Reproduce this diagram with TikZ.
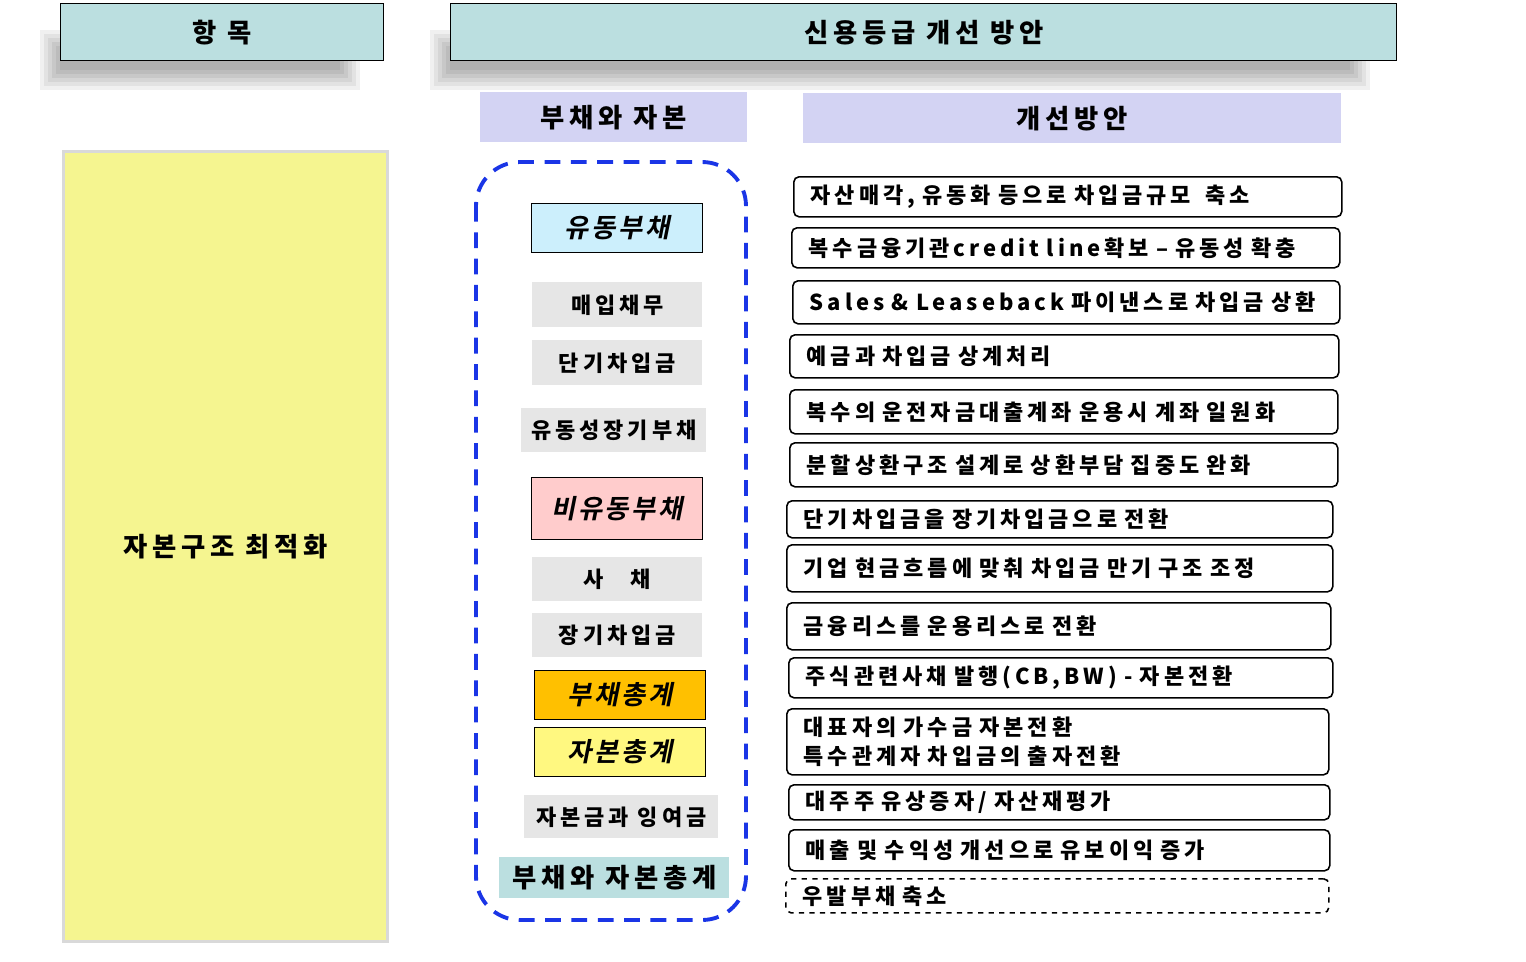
\documentclass[tikz,border=0pt]{standalone}
\usepackage{fontspec}
\setmainfont{Noto Sans CJK KR}[LetterSpace=18]
\newfontfamily\slfont{Noto Sans CJK KR}[FakeSlant=0.2,LetterSpace=10,BoldFont=* Bold]
\usetikzlibrary{positioning,shapes,backgrounds}
\definecolor{hdteal}{HTML}{BBDFE0}
\definecolor{lav}{HTML}{D3D3F3}
\definecolor{padyel}{HTML}{F5F590}
\definecolor{itgray}{HTML}{E6E6E6}
\definecolor{dashblue}{HTML}{1A35E6}
\definecolor{sumorange}{HTML}{FFC000}
\begin{document}
\begin{tikzpicture}[x=0.02cm,y=-0.02cm,font=\bfseries\fontsize{12.5}{16}\selectfont]
  \tikzstyle{box}=[draw, anchor=north west, inner sep=0pt]
  \tikzstyle{hdr}=[box, fill=hdteal, line width=0.8pt, font=\bfseries\fontsize{15}{18}\selectfont]
  \tikzstyle{sub}=[box, draw=none, fill=lav, font=\bfseries\fontsize{15}{18}\selectfont]
  \tikzstyle{item}=[box, draw=none, fill=itgray]
  \tikzstyle{kind}=[box, line width=0.6pt, font=\slfont\bfseries\fontsize{15}{18}\selectfont]
  \tikzstyle{plan}=[box, rounded corners=3pt, line width=0.9pt, align=left]
  \useasboundingbox (0,0) rectangle (1526,961);

  % soft shadows of the headers
  \foreach \d in {0,4,...,20} {
    \fill[black, opacity=0.06] (40+\d,30+\d) rectangle (360-\d,90-\d);
    \fill[black, opacity=0.06] (430+\d,30+\d) rectangle (1370-\d,90-\d);
  }

  \node[hdr, minimum width=323*0.02cm, minimum height=57*0.02cm] (item) at (60,3) {항 목};
  \node[hdr, minimum width=946*0.02cm, minimum height=57*0.02cm] (plan) at (450,3) {신용등급 개선 방안};
  \node[sub, minimum width=267*0.02cm, minimum height=50*0.02cm] (debt) at (480,92) {부채와 자본};
  \node[sub, minimum width=538*0.02cm, minimum height=50*0.02cm] (impr) at (803,93) {개선방안};

  \node[box, draw=black!15, line width=1.5pt, fill=padyel, minimum width=324*0.02cm, minimum height=790*0.02cm,
        font=\bfseries\fontsize{15}{18}\selectfont] (goal) at (62,150) {자본구조 최적화};

  \draw[dashblue, line width=2.2pt, dash pattern=on 9pt off 6pt, rounded corners=25pt] (476,162) rectangle (746,920);

  % balance sheet items
  \node[kind, fill=cyan!20, minimum width=171*0.02cm, minimum height=49*0.02cm] (cur) at (531,203) {유동부채};
  \node[item, minimum width=170*0.02cm, minimum height=45*0.02cm] (pay) at (532,282) {매입채무\hspace{2em}};
  \node[item, minimum width=170*0.02cm, minimum height=45*0.02cm] (sbor) at (532,340) {단기차입금};
  \node[item, minimum width=185*0.02cm, minimum height=44*0.02cm] (cltd) at (521,408) {유동성장기부채};
  \node[kind, fill=red!20, minimum width=171*0.02cm, minimum height=62*0.02cm] (ncur) at (531,477) {비유동부채};
  \node[item, minimum width=170*0.02cm, minimum height=44*0.02cm] (bond) at (532,557) {사\hspace{1.2em}채\hspace{3.5em}};
  \node[item, minimum width=170*0.02cm, minimum height=44*0.02cm] (lbor) at (532,613) {장기차입금};
  \node[kind, fill=sumorange, minimum width=171*0.02cm, minimum height=49*0.02cm] (tdebt) at (534,670) {부채총계};
  \node[kind, fill=yellow!50, minimum width=171*0.02cm, minimum height=49*0.02cm] (tcap) at (534,727) {자본총계};
  \node[item, minimum width=194*0.02cm, minimum height=43*0.02cm] (capsur) at (524,795) {자본금과 잉여금};
  \node[item, fill=hdteal, minimum width=230*0.02cm, minimum height=41*0.02cm,
        font=\bfseries\fontsize{15}{18}\selectfont] (total) at (499,857) {부채와 자본총계};

  % improvement plans
  \foreach \n/\xa/\ya/\xb/\yb/\t in {
    p1/793/176/1341/216/{자산매각, 유동화 등으로 차입금규모\ \ 축소},
    p2/791/227/1339/267/{복수금융기관credit line확보 – 유동성 확충},
    p3/792/280/1339/323/{Sales \& Leaseback 파이낸스로 차입금 상환},
    p4/789/334/1338/377/{예금과 차입금 상계처리},
    p5/789/389/1337/433/{복수의 운전자금대출계좌 운용시 계좌 일원화},
    p6/789/442/1337/486/{분할상환구조 설계로 상환부담 집중도 완화},
    p7/786/500/1332/537/{단기차입금을 장기차입금으로 전환},
    p8/786/544/1332/591/{기업 현금흐름에 맞춰 차입금 만기 구조 조정},
    p9/786/602/1330/649/{금융리스를 운용리스로 전환},
    p10/788/657/1332/697/{주식관련사채 발행(CB,BW) - 자본전환},
    p11/786/708/1328/774/{대표자의 가수금 자본전환\\특수관계자 차입금의 출자전환},
    p12/788/784/1329/819/{대주주 유상증자/ 자산재평가},
    p13/788/829/1329/870/{매출 및 수익성 개선으로 유보이익 증가}}
  {
    \node[plan, minimum width={(\xb-\xa)*0.02cm}, minimum height={(\yb-\ya)*0.02cm},
          text width={(\xb-\xa-34)*0.02cm}] (\n) at (\xa,\ya) {\t};
  }
  \node[plan, dashed, minimum width=543*0.02cm, minimum height=34*0.02cm,
        text width=509*0.02cm] (p14) at (785,878) {우발부채 축소};
\end{tikzpicture}
\end{document}
